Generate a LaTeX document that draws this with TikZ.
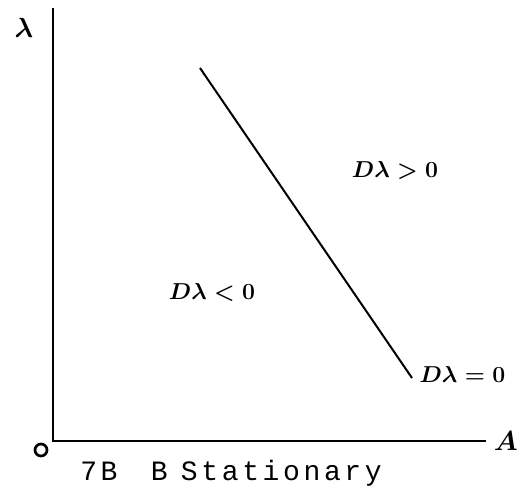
\documentclass[tikz,border=0pt]{standalone}
\usepackage{tikz}
\usepackage{xcolor}
\usepackage{amsmath}
\usepackage{amsbsy}
\usepackage{fontspec}
\newfontfamily\capfont[LetterSpace=13]{Liberation Mono}
\newcommand{\FL}{\fontsize{17}{20}\selectfont\bfseries}
\newcommand{\FA}{\fontsize{22}{26}\selectfont\bfseries}
\newcommand{\FC}{\capfont\fontsize{21}{24}\selectfont}

\begin{document}
\begin{tikzpicture}[x=0.75pt,y=-0.75pt]
\tikzstyle{texto}=[draw=none,fill=none,black,font=\FL,inner sep=1pt]
\tikzstyle{eixo}=[texto,font=\FA]
\tikzstyle{axis}=[black,line width=2.2pt]
\tikzstyle{line}=[black,line width=1.5pt]

\useasboundingbox (0,0) rectangle (520,496);

\coordinate (ytop) at (53,8);
\coordinate (orig) at (53,441);
\coordinate (xend) at (486,441);
\coordinate (top) at (200,68);
\coordinate (bot) at (412,378);

\draw[axis] (ytop) -- (orig) -- (xend);
\draw[line] (top) -- (bot);

\node[eixo] (lam) at (24,28) {$\boldsymbol{\lambda}$};
\node[eixo] (a) at (506,441) {$\boldsymbol{A}$};
\node[draw,circle,line width=2pt,inner sep=0pt,minimum size=9pt] (o) at (41,450) {};
\node[texto] (up) at (395,170) {$\boldsymbol{D\lambda>0}$};
\node[texto] (down) at (212,292) {$\boldsymbol{D\lambda<0}$};
\node[texto,anchor=west] (zero) at (418,374) {$\boldsymbol{D\lambda=0}$};
\node[font=\FC,anchor=base west,inner sep=0pt] (cap) at (80,480)
  {7B\hspace{25pt}B\hspace{10pt}Stationary};
\end{tikzpicture}
\end{document}
